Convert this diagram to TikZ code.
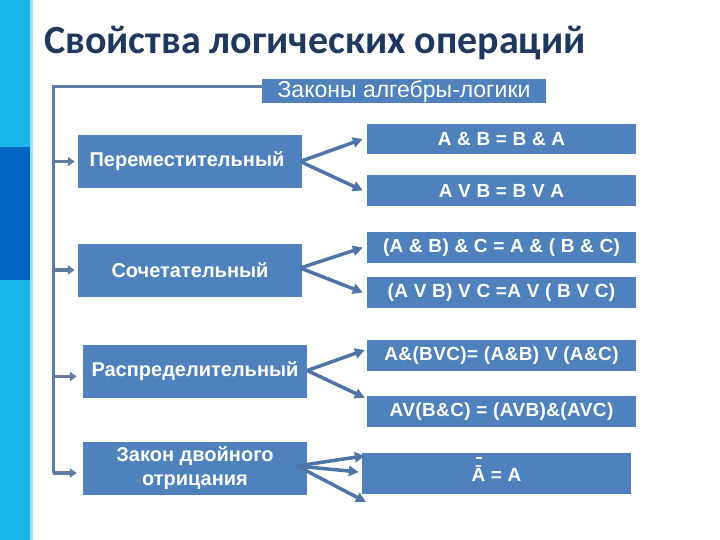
\documentclass[tikz,border=0pt]{standalone}
\usepackage{fontspec}
\setmainfont{Liberation Sans}
\newfontfamily\titlefont{Carlito}
\newfontfamily\lawfont[LetterSpace=2]{Liberation Sans}
\usetikzlibrary{arrows.meta,calc}
\definecolor{boxblue}{RGB}{79,129,189}
\definecolor{arrowblue}{RGB}{79,116,168}
\definecolor{lineblue}{RGB}{96,124,162}
\definecolor{titleblue}{RGB}{31,56,96}
\definecolor{sidecyan}{RGB}{25,182,234}
\definecolor{sidedark}{RGB}{0,102,192}
\definecolor{sidelight}{RGB}{160,222,246}
\tikzset{
  lbox/.style={fill=boxblue, text=white, font=\bfseries\fontsize{20}{25}\selectfont,
    minimum width=224pt, minimum height=53pt, inner sep=0pt, align=center},
  rbox/.style={fill=boxblue, text=white, font=\lawfont\bfseries\fontsize{19}{22}\selectfont,
    minimum width=269pt, minimum height=31pt, inner sep=0pt},
  hbox/.style={fill=boxblue, text=white, font=\fontsize{23}{26}\selectfont,
    minimum width=284pt, minimum height=24pt, inner sep=0pt},
  arr/.style={draw=arrowblue, line width=3.5pt, -{Triangle[length=10pt,width=10pt]}},
  larr/.style={draw=lineblue, line width=3.5pt, -{Triangle[length=7pt,width=9pt]}},
  bracket/.style={draw=lineblue, line width=3pt}
}
\begin{document}
\begin{tikzpicture}[x=1pt,y=-1pt]
\useasboundingbox (0,0) rectangle (720,540);
\fill[white] (0,0) rectangle (720,540);
% sidebar
\fill[sidecyan] (0,0) rectangle (30,540);
\fill[sidedark] (0,147) rectangle (30,280);
\fill[sidelight] (30,0) rectangle (33,540);
% title
\node[anchor=base west, text=titleblue, font=\titlefont\bfseries\fontsize{40}{44}\selectfont, inner sep=0pt] (title) at (44,54) {Свойства логических операций};
% header
\node[hbox] (hdr) at (404,91) {Законы алгебры-логики};
% left boxes
\node[lbox] (L1) at (190,161.5) {\hspace*{-6pt}Переместительный};
\node[lbox] (L2) at (190,270) {Сочетательный};
\node[lbox] (L3) at (195,371.5) {Распределительный};
\node[lbox] (L4) at (195,468) {\raisebox{-3pt}{\begin{tabular}{@{}c@{}}Закон двойного\\[-1pt]отрицания\end{tabular}}};
% right boxes
\node[rbox, minimum height=30pt] (R1) at (501.5,139) {A \& B = B \& A};
\node[rbox] (R2) at (501.5,190.5) {A V B = B V A};
\node[rbox] (R3) at (501.5,247.5) {(A \& B) \& C = A \& ( B \& C)};
\node[rbox] (R4) at (501.5,292.5) {(A V B) V C =A V ( B V C)};
\node[rbox] (R5) at (501.5,355.5) {A\&(BVC)= (A\&B) V (A\&C)};
\node[rbox] (R6) at (501.5,411.5) {AV(B\&C) = (AVB)\&(AVC)};
\node[rbox, minimum height=41pt] (R7) at (496.5,473.5) {\rlap{\raisebox{22pt}[0pt][0pt]{\hspace{4pt}\rule{6.5pt}{2pt}}}Ā = A};
% bracket
\coordinate (bk) at (53,473);
\draw[bracket] ([yshift=4pt]hdr.west) -| (bk);
\draw[larr] (L1.west -| bk) -- ([xshift=-3pt]L1.west);
\draw[larr] (L2.west -| bk) -- ([xshift=-3pt]L2.west);
\draw[larr] ([yshift=-5pt]L3.west -| bk) -- ([xshift=-6pt,yshift=-5pt]L3.west);
\draw[larr] (bk) -- ([xshift=-6pt,yshift=-5pt]L4.west);
% arrows to laws
\draw[arr] ([xshift=-2pt]L1.east) -- ([xshift=-4pt]R1.west);
\draw[arr] ([xshift=-2pt]L1.east) -- ([xshift=-4pt]R2.west);
\draw[arr] ([xshift=-2pt,yshift=2pt]L2.east) -- ([xshift=-4pt]R3.west);
\draw[arr] ([xshift=-2pt,yshift=2pt]L2.east) -- ([xshift=-4pt]R4.west);
\draw[arr] ([yshift=1pt]L3.east) -- ([xshift=-2pt,yshift=5.5pt]R5.west);
\draw[arr] ([yshift=1pt]L3.east) -- ([xshift=-2pt,yshift=-2pt]R6.north west);
\coordinate (extra) at (366,502);
\draw[arr] ([xshift=-10pt,yshift=2pt]L4.east) -- ([xshift=3pt,yshift=-3pt]R7.north west);
\draw[arr] ([xshift=-10pt,yshift=2pt]L4.east) -- ([xshift=-3pt,yshift=1.5pt]R7.west);
\draw[arr] ([xshift=-10pt,yshift=2pt]L4.east) -- (extra);
\end{tikzpicture}
\end{document}
